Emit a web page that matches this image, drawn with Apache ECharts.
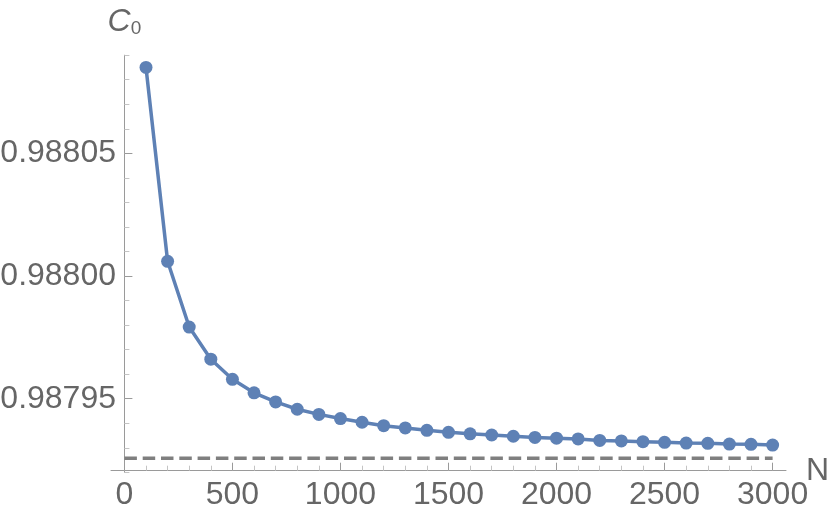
<!DOCTYPE html>
<html>
<head>
<meta charset="utf-8">
<script src="https://cdn.jsdelivr.net/npm/echarts@6/dist/echarts.min.js"></script>
<style>
  html, body { margin: 0; padding: 0; background: #fff; }
  #chart { width: 830px; height: 519px; }
</style>
</head>
<body>
<div id="chart"></div>
<script>
// 数据：N 与 C0
const nValues = [100, 200, 300, 400, 500, 600, 700, 800, 900, 1000,
  1100, 1200, 1300, 1400, 1500, 1600, 1700, 1800, 1900, 2000,
  2100, 2200, 2300, 2400, 2500, 2600, 2700, 2800, 2900, 3000];
const c0Values = [0.9880850, 0.9880060, 0.9879792, 0.9879661, 0.9879579,
  0.9879524, 0.9879487, 0.9879457, 0.9879436, 0.9879419,
  0.9879404, 0.9879390, 0.9879381, 0.9879371, 0.9879363,
  0.9879357, 0.9879352, 0.9879347, 0.9879342, 0.9879339,
  0.9879336, 0.9879330, 0.9879328, 0.9879325, 0.9879322,
  0.9879319, 0.9879318, 0.9879315, 0.9879314, 0.9879311];
// 渐近线（虚线）
const limitN = [0, 3000];
const limitC0 = 0.9879257;

// 刻度
const xMajorTicks = [0, 500, 1000, 1500, 2000, 2500, 3000];
const xMinorTicks = [0, 100, 200, 300, 400, 500, 600, 700, 800, 900, 1000,
  1100, 1200, 1300, 1400, 1500, 1600, 1700, 1800, 1900, 2000,
  2100, 2200, 2300, 2400, 2500, 2600, 2700, 2800, 2900, 3000];
const yMajorTicks = [0.98795, 0.98800, 0.98805];
const yMinorTicks = [0.98792, 0.98793, 0.98794, 0.98795, 0.98796, 0.98797,
  0.98798, 0.98799, 0.98800, 0.98801, 0.98802, 0.98803, 0.98804, 0.98805,
  0.98806, 0.98807, 0.98808, 0.98809];

const font = 'Liberation Sans';
const textColor = '#666666';
const axisColor = '#9a9a9a';
const minorColor = '#c4c4c4';
const lineColor = '#5e81b5';

const xMin = -62, xMax = 3062;
const yMin = 0.98792, yMax = 0.98809;

const chart = echarts.init(document.getElementById('chart'));

const option = {
  animation: false,
  backgroundColor: '#fff',
  // 关闭 v6 的外边界自动收缩，保证坐标位置固定
  grid: { left: 111, right: 44, top: 55.2, bottom: 46.7, containLabel: false, outerBoundsMode: 'none' },
  xAxis: [
    {
      type: 'value', min: xMin, max: xMax, position: 'bottom', offset: -1.6,
      name: 'N', nameLocation: 'end', nameGap: 20, nameMoveOverlap: false,
      nameTextStyle: { color: textColor, fontSize: 32, fontFamily: font },
      axisLine: { show: true, onZero: false, lineStyle: { color: axisColor, width: 1 } },
      axisTick: { show: true, inside: true, length: 5, customValues: xMinorTicks,
        lineStyle: { color: minorColor, width: 1 } },
      axisLabel: { show: true, customValues: xMajorTicks, margin: 8,
        color: textColor, fontSize: 32, fontFamily: font,
        formatter: v => String(v) },
      splitLine: { show: false }
    },
    {
      type: 'value', min: xMin, max: xMax, position: 'bottom', offset: -1.6,
      axisLine: { show: false, onZero: false },
      axisTick: { show: true, inside: true, length: 8, customValues: xMajorTicks,
        lineStyle: { color: axisColor, width: 1 } },
      axisLabel: { show: false },
      splitLine: { show: false }
    }
  ],
  yAxis: [
    {
      type: 'value', min: yMin, max: yMax, position: 'left',
      name: '{c|C}{s|0}', nameLocation: 'end', nameGap: 17, nameMoveOverlap: false,
      nameTextStyle: {
        rich: {
          c: { fontStyle: 'italic', fontSize: 32, color: textColor, fontFamily: font },
          s: { fontSize: 19, lineHeight: 17, verticalAlign: 'bottom', color: textColor, fontFamily: font }
        }
      },
      axisLine: { show: true, onZero: true, onZeroAxisIndex: 0, lineStyle: { color: axisColor, width: 1 } },
      axisTick: { show: true, inside: true, length: 5, customValues: yMinorTicks,
        lineStyle: { color: minorColor, width: 1 } },
      // 标签锚点在网格左边缘（111px），负边距把它推到 y 轴旁边
      axisLabel: { show: true, customValues: yMajorTicks, margin: -5,
        color: textColor, fontSize: 32, fontFamily: font,
        formatter: v => v.toFixed(5) },
      splitLine: { show: false }
    },
    {
      type: 'value', min: yMin, max: yMax, position: 'left',
      axisLine: { show: false, onZero: true, onZeroAxisIndex: 0 },
      axisTick: { show: true, inside: true, length: 8, customValues: yMajorTicks,
        lineStyle: { color: axisColor, width: 1 } },
      axisLabel: { show: false },
      splitLine: { show: false }
    }
  ],
  series: [
    {
      type: 'line',
      xAxisIndex: 0, yAxisIndex: 0,
      data: limitN.map(n => [n, limitC0]),
      symbol: 'none',
      lineStyle: { color: '#7f7f7f', width: 3.5, type: [12.5, 5.8] },
      silent: true,
      z: 1
    },
    {
      type: 'line',
      xAxisIndex: 0, yAxisIndex: 0,
      data: nValues.map((n, i) => [n, c0Values[i]]),
      symbol: 'circle',
      symbolSize: 13,
      itemStyle: { color: lineColor },
      lineStyle: { color: lineColor, width: 3.5 },
      z: 2
    }
  ]
};

chart.setOption(option);
</script>
</body>
</html>
